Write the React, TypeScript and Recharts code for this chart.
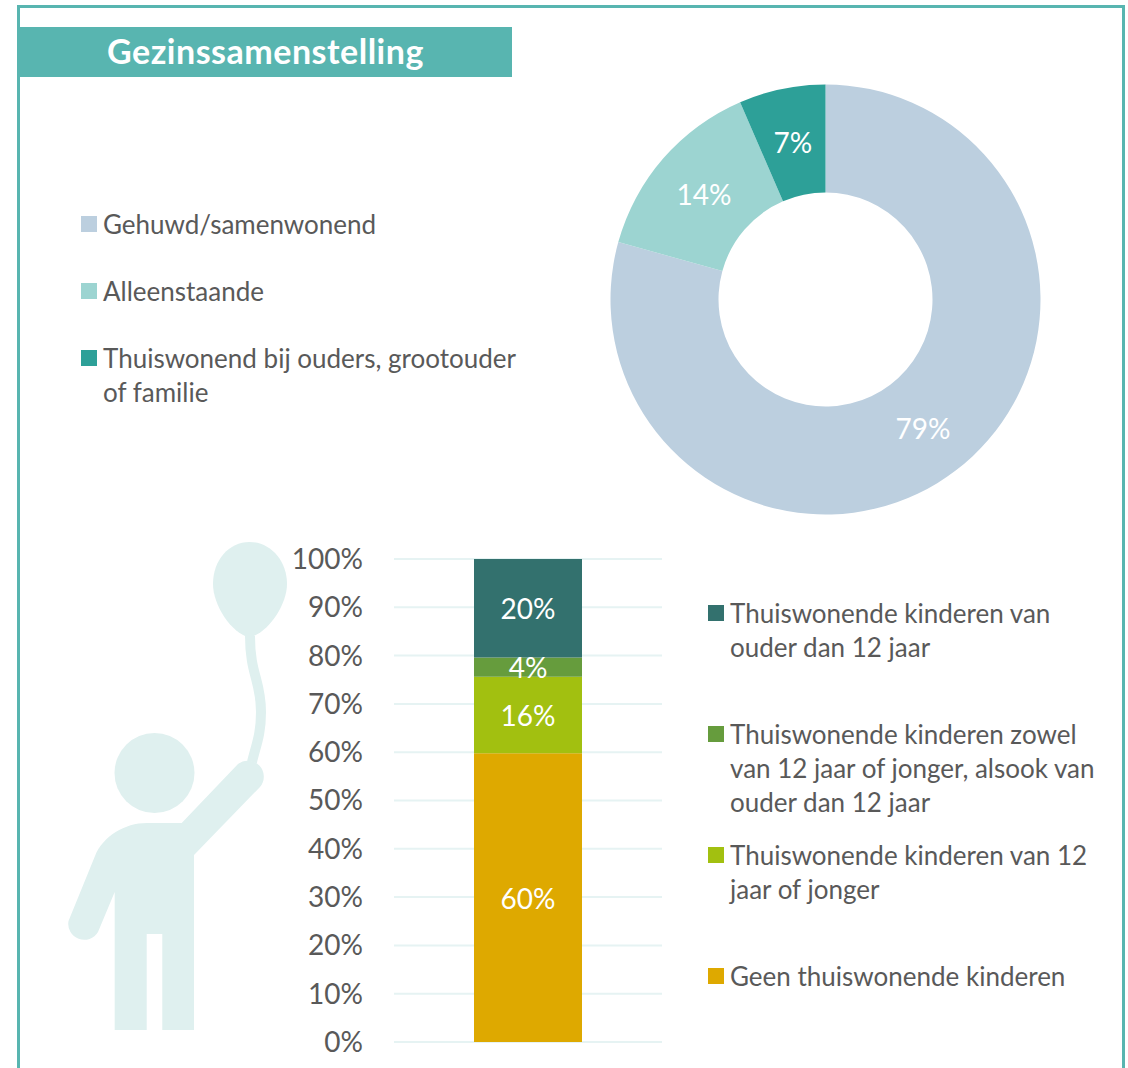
import React from 'react'
import { PieChart, Pie, Cell, BarChart, Bar, XAxis, YAxis, CartesianGrid, LabelList } from 'recharts'

const householdNames = ['Gehuwd/samenwonend', 'Alleenstaande', 'Thuiswonend bij ouders, grootouder\nof familie']
const householdValues = [79.3, 14.2, 6.5]
const householdColors = ['#bccfdf', '#9cd4d1', '#2da098']

const childNames = [
  'Geen thuiswonende kinderen',
  'Thuiswonende kinderen van 12\njaar of jonger',
  'Thuiswonende kinderen zowel\nvan 12 jaar of jonger, alsook van\nouder dan 12 jaar',
  'Thuiswonende kinderen van\nouder dan 12 jaar'
]
const childValues = [59.8, 15.8, 4, 20.4]
const childColors = ['#dea900', '#a2c010', '#669c3d', '#33716e']
const yTicks = [0, 10, 20, 30, 40, 50, 60, 70, 80, 90, 100]

const TEXT = '#595959'
const FONT = 'Lato, sans-serif'
const TEAL = '#58b5b0'
const PALE = '#dff0ef'

const pieData = householdNames.map((name, i) => ({ name, value: householdValues[i] }))
const barData = [
  childNames.reduce((row: Record<string, number | string>, name, i) => {
    row[name] = childValues[i]
    return row
  }, { category: 'Kinderen' })
]

// tops of the legend rows, in page pixels
const householdLegendTops = [207, 274, 341]
const childLegendTops = [959, 838, 717, 596]

function LegendRow({ name, color, top, left }: { name: string; color: string; top: number; left: number }) {
  return (
    <div style={{ position: 'absolute', left, top }}>
      <div style={{ position: 'absolute', left: 0, top: 9, width: 16, height: 16, background: color }} />
      <div
        style={{
          position: 'absolute',
          left: 22,
          top: 0,
          whiteSpace: 'pre',
          fontSize: 26,
          lineHeight: '34px',
          color: TEXT,
          fontFamily: FONT
        }}
      >
        {name}
      </div>
    </div>
  )
}

function renderPieLabel(props: any) {
  const { cx, cy, midAngle, innerRadius, outerRadius, value } = props
  const r = (innerRadius + outerRadius) / 2
  const rad = (-midAngle * Math.PI) / 180
  return (
    <text
      x={cx + r * Math.cos(rad)}
      y={cy + r * Math.sin(rad)}
      fill="#fff"
      fontSize={28}
      fontFamily={FONT}
      textAnchor="middle"
      dominantBaseline="central"
    >
      {Math.round(value)}%
    </text>
  )
}

function ChildFigure() {
  return (
    <svg width={300} height={520} style={{ position: 'absolute', left: 0, top: 530 }} viewBox="0 530 300 520">
      <circle cx={154.5} cy={773} r={40} fill={PALE} />
      <path
        d="M249.5 542 C270 542 287 560 287 584 C287 605 268 633 249.5 637.5 C231 633 213 605 213 584 C213 560 229 542 249.5 542 Z"
        fill={PALE}
      />
      <path d="M250 636 C250 675 261 680 261 712 C261 735 256 745 252 762" fill="none" stroke={PALE} strokeWidth={10} />
      <path
        d="M146.7 823 L181.7 823 L238 764 A16 16 0 0 1 260 787 L194 855 L194 1030 L162.3 1030 L162.3 934 L146.7 934 L146.7 1030 L114.7 1030 L114.7 892 L98 932 A16 16 0 0 1 68.5 921 L95 856 C103 836 125 823 146.7 823 Z"
        fill={PALE}
      />
    </svg>
  )
}

export default function App() {
  return (
    <div
      style={{
        position: 'absolute',
        left: 0,
        top: 0,
        width: 1128,
        height: 1068,
        background: '#fff',
        overflow: 'hidden',
        fontFamily: FONT
      }}
    >
      {/* frame, open at the bottom */}
      <div
        style={{
          position: 'absolute',
          left: 17,
          top: 5,
          width: 1102,
          height: 1080,
          border: `3px solid ${TEAL}`,
          boxSizing: 'content-box'
        }}
      />
      <div
        style={{
          position: 'absolute',
          left: 19,
          top: 27,
          width: 493,
          height: 50,
          background: TEAL,
          color: '#fff',
          fontWeight: 700,
          fontSize: 34,
          letterSpacing: 0.5,
          lineHeight: '48px',
          textAlign: 'center'
        }}
      >
        Gezinssamenstelling
      </div>

      {householdNames.map((name, i) => (
        <LegendRow key={name} name={name} color={householdColors[i]} top={householdLegendTops[i]} left={81} />
      ))}

      <div style={{ position: 'absolute', left: 600, top: 75 }}>
        <PieChart width={450} height={450} margin={{ top: 0, right: 0, bottom: 0, left: 0 }}>
          <Pie
            data={pieData}
            dataKey="value"
            cx={225.5}
            cy={224.5}
            innerRadius={107}
            outerRadius={215}
            startAngle={90}
            endAngle={-270}
            stroke="none"
            label={renderPieLabel}
            labelLine={false}
            isAnimationActive={false}
          >
            {householdColors.map(color => (
              <Cell key={color} fill={color} />
            ))}
          </Pie>
        </PieChart>
      </div>

      <ChildFigure />

      <div style={{ position: 'absolute', left: 280, top: 540 }}>
        <BarChart
          width={400}
          height={520}
          data={barData}
          margin={{ top: 19, right: 18, bottom: 18, left: 0 }}
          barSize={108}
        >
          <CartesianGrid vertical={false} stroke="#e6f3f3" strokeWidth={2} />
          <XAxis dataKey="category" hide />
          <YAxis
            width={114}
            domain={[0, 100]}
            ticks={yTicks}
            tickFormatter={(v: number) => `${v}%`}
            axisLine={false}
            tickLine={false}
            tickSize={0}
            tickMargin={31}
            interval={0}
            tick={{ fill: TEXT, fontSize: 28, fontFamily: FONT }}
          />
          {childNames.map((name, i) => (
            <Bar key={name} dataKey={name} stackId="kids" fill={childColors[i]} isAnimationActive={false}>
              <LabelList
                dataKey={name}
                position="center"
                formatter={(v: number) => `${Math.round(v)}%`}
                fill="#fff"
                fontSize={28}
                fontFamily={FONT}
                dy={1}
              />
            </Bar>
          ))}
        </BarChart>
      </div>

      {childNames.map((name, i) => (
        <LegendRow key={name} name={name} color={childColors[i]} top={childLegendTops[i]} left={708} />
      ))}
    </div>
  )
}
